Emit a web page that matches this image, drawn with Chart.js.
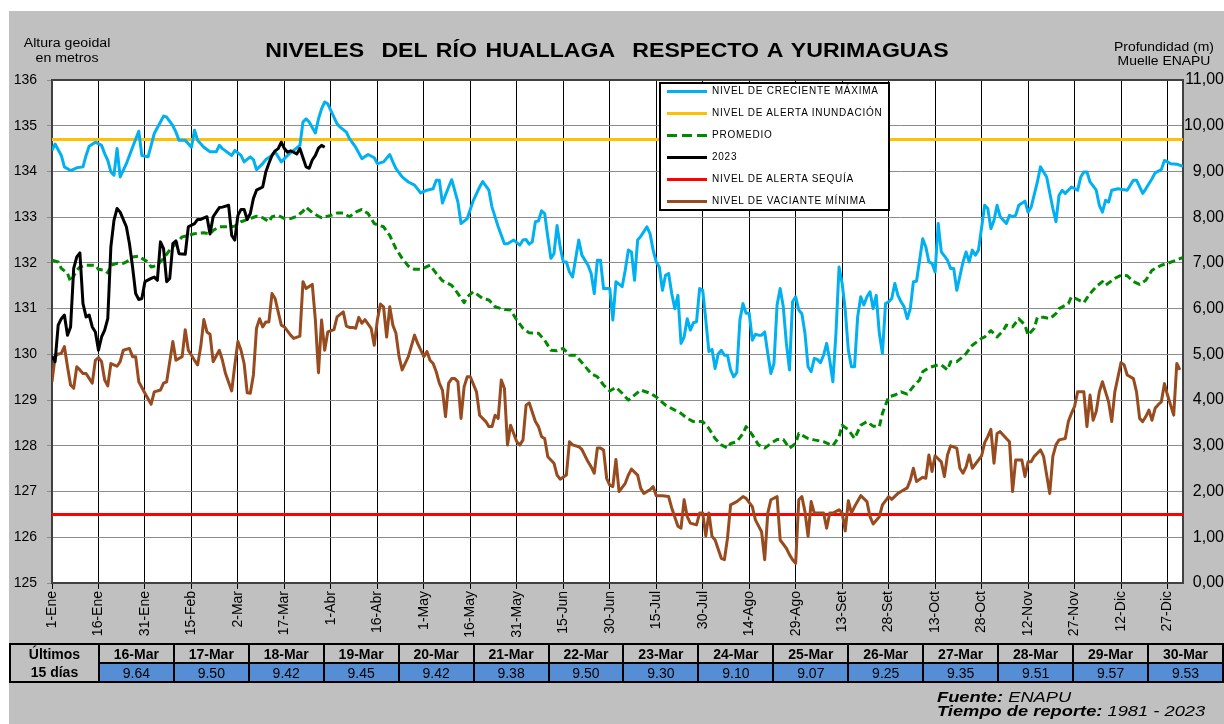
<!DOCTYPE html>
<html>
<head>
<meta charset="utf-8">
<script src="https://cdn.jsdelivr.net/npm/chart.js@4"></script>
<style>
  body { margin: 0; width: 1224px; height: 724px; background: #fff; overflow: hidden;
         font-family: Arial, "Liberation Sans", sans-serif; color: #000; }
  #frame { position: absolute; left: 9px; top: 11px; width: 1215px; height: 713px; background: #c0c0c0; }
  #grafico { position: absolute; left: 0; top: 0; }
  .txt { position: absolute; white-space: nowrap; }
  #titulo { left: 0; width: 1214px; top: 38px; text-align: center; font-weight: bold; font-size: 21px; word-spacing: 2px;
            transform: scaleX(1.1); transform-origin: 607px 0; }
  #ejeIzq { left: 17px; width: 100px; top: 36px; text-align: center; font-size: 12px; line-height: 14.5px;
            transform: scaleX(1.18); transform-origin: 50px 0; }
  #ejeDer { left: 1114px; width: 100px; top: 39.5px; text-align: center; font-size: 12px; line-height: 14px;
            transform: scaleX(1.16); transform-origin: 50px 0; }
  #leyenda { position: absolute; left: 659px; top: 82px; width: 231px; height: 129px; box-sizing: border-box;
             background: #fff; border: 2px solid #000; }
  #leyenda .fila { position: absolute; left: 0; height: 22px; line-height: 22px; font-size: 10px; letter-spacing: 0.75px; white-space: nowrap; }
  #leyenda .sw { position: absolute; left: 6px; top: 10px; width: 40px; height: 3px; }
  #leyenda .lbl { position: absolute; left: 51px; top: 0; }
  #tabla { position: absolute; left: 9px; top: 643px; border-collapse: collapse; table-layout: fixed; }
  #tabla td { border: 2px solid #000; height: 16px; padding: 0; text-align: center; font-size: 14px; line-height: 16px; }
  #tabla td.cab { font-weight: bold; background: #c0c0c0; }
  #tabla td.val { background: #558ed5; }
  #fuente { left: 937px; top: 689.5px; font-size: 15px; line-height: 14px; font-style: italic;
            transform: scaleX(1.22); transform-origin: 0 0; }
</style>
</head>
<body>
<div id="frame"></div>
<canvas id="grafico" width="1224" height="724"></canvas>
<div class="txt" id="titulo">NIVELES&nbsp; DEL RÍO HUALLAGA&nbsp; RESPECTO A YURIMAGUAS</div>
<div class="txt" id="ejeIzq">Altura geoidal<br>en metros</div>
<div class="txt" id="ejeDer">Profundidad (m)<br>Muelle ENAPU</div>
<div id="leyenda"></div>
<table id="tabla"></table>
<div class="txt" id="fuente"><b>Fuente:</b> ENAPU<br><b>Tiempo de reporte:</b> 1981 - 2023</div>
<script>
// ejes
const tickDays = [0, 15, 30, 45, 60, 75, 90, 105, 120, 135, 150, 165, 180, 195, 210, 225, 240, 255, 270, 285, 300, 315, 330, 345, 360];
const tickLabels = ["1-Ene", "16-Ene", "31-Ene", "15-Feb", "2-Mar", "17-Mar", "1-Abr", "16-Abr", "1-May", "16-May",
  "31-May", "15-Jun", "30-Jun", "15-Jul", "30-Jul", "14-Ago", "29-Ago", "13-Set", "28-Set", "13-Oct",
  "28-Oct", "12-Nov", "27-Nov", "12-Dic", "27-Dic"];

// ultimos 15 dias (profundidad en m)
const ultimasFechas = ["16-Mar", "17-Mar", "18-Mar", "19-Mar", "20-Mar", "21-Mar", "22-Mar", "23-Mar", "24-Mar", "25-Mar", "26-Mar", "27-Mar", "28-Mar", "29-Mar", "30-Mar"];
const ultimasProfundidades = ["9.64", "9.50", "9.42", "9.45", "9.42", "9.38", "9.50", "9.30", "9.10", "9.07", "9.25", "9.35", "9.51", "9.57", "9.53"];

const alertaInundacion = 134.7;
const alertaSequia = 126.5;

// [dia del año, nivel m]
const crecienteMaxima = [[0,134.46],[1,134.60],[3,134.35],[4,134.10],[5,134.06],[6,134.02],[8,134.08],[10,134.10],[11,134.35],[12,134.55],[14,134.64],[16,134.57],[17,134.39],[18,134.24],[19,133.99],[20,133.92],[21,134.50],[22,133.88],[24,134.17],[26,134.53],[28,134.88],[29,134.35],[31,134.32],[32,134.57],[33,134.83],[35,135.08],[36,135.21],[37,135.19],[39,135.00],[40,134.86],[41,134.68],[43,134.68],[45,134.53],[46,134.90],[47,134.68],[49,134.53],[51,134.43],[53,134.43],[54,134.57],[55,134.50],[58,134.35],[59,134.46],[61,134.35],[62,134.21],[64,134.32],[65,134.26],[66,134.04],[68,134.17],[69,134.26],[71,134.35],[72,134.43],[74,134.21],[76,134.35],[78,134.46],[80,134.57],[81,135.08],[82,135.15],[83,135.08],[85,134.84],[86,135.15],[87,135.37],[88,135.52],[89,135.48],[90,135.33],[92,135.04],[93,134.97],[95,134.86],[96,134.72],[98,134.53],[100,134.28],[102,134.37],[104,134.30],[105,134.17],[107,134.21],[109,134.37],[110,134.21],[111,134.06],[113,133.88],[115,133.77],[117,133.70],[119,133.53],[121,133.59],[123,133.62],[124,133.81],[125,133.81],[126,133.31],[128,133.66],[129,133.82],[131,133.33],[132,132.86],[134,132.97],[136,133.37],[138,133.66],[139,133.78],[141,133.59],[142,133.22],[144,132.79],[146,132.42],[147,132.42],[149,132.50],[151,132.39],[152,132.50],[153,132.51],[154,132.41],[155,132.46],[156,132.90],[157,132.92],[158,133.14],[159,133.08],[160,132.57],[161,132.10],[162,132.20],[163,132.82],[164,132.35],[165,132.02],[166,132.02],[167,131.80],[168,131.69],[170,132.50],[171,132.17],[173,131.95],[174,131.77],[175,131.33],[176,132.06],[177,132.06],[178,131.44],[180,131.44],[181,130.75],[182,131.59],[184,131.48],[185,131.84],[186,132.28],[187,132.24],[188,131.62],[189,132.50],[190,132.58],[192,132.79],[193,132.64],[194,132.28],[195,132.02],[196,131.91],[197,131.40],[198,131.73],[199,131.77],[200,131.33],[201,131.00],[202,131.29],[203,130.24],[204,130.38],[205,130.78],[206,130.53],[207,130.69],[208,130.71],[209,131.44],[210,131.40],[211,130.75],[212,130.06],[213,130.11],[214,129.69],[215,130.01],[216,130.09],[217,129.98],[218,129.98],[219,129.66],[220,129.51],[221,129.60],[222,130.75],[223,131.11],[224,130.90],[225,130.90],[226,130.31],[227,130.44],[228,130.42],[229,130.42],[230,130.49],[231,130.02],[232,129.58],[233,129.80],[234,131.08],[235,131.44],[236,131.04],[237,130.24],[238,129.66],[239,131.15],[240,131.26],[241,130.97],[242,130.89],[243,130.46],[244,129.73],[245,129.62],[246,129.91],[247,129.89],[248,129.82],[249,129.98],[250,130.24],[251,129.87],[252,129.40],[253,130.46],[254,131.91],[255,131.55],[256,130.97],[257,130.09],[258,129.73],[259,129.73],[260,130.82],[261,131.26],[262,131.08],[263,131.26],[264,131.37],[265,131.00],[266,131.29],[267,130.46],[268,130.02],[269,131.11],[270,131.15],[271,131.22],[272,131.55],[273,131.29],[274,131.15],[275,131.04],[276,130.78],[277,131.00],[278,131.59],[279,131.60],[280,132.06],[281,132.53],[282,132.35],[283,132.02],[284,131.99],[285,131.80],[286,132.86],[287,132.24],[289,132.06],[290,131.88],[291,131.88],[292,131.40],[294,132.02],[295,132.24],[296,132.02],[297,132.28],[298,132.17],[299,132.28],[301,133.26],[302,133.19],[303,132.75],[304,132.93],[305,133.26],[306,133.01],[308,132.86],[309,133.04],[310,133.01],[311,133.04],[312,133.26],[314,133.35],[315,133.11],[316,133.22],[318,133.77],[319,134.10],[321,133.88],[323,133.19],[324,132.90],[325,133.48],[326,133.59],[327,133.52],[329,133.66],[331,133.59],[332,133.88],[333,133.99],[334,133.99],[335,133.77],[337,133.59],[338,133.26],[339,133.11],[340,133.37],[341,133.33],[342,133.59],[344,133.62],[346,133.60],[347,133.59],[349,133.81],[350,133.81],[352,133.52],[353,133.62],[355,133.84],[356,133.97],[358,134.04],[359,134.24],[360,134.21],[361,134.17],[363,134.16],[365,134.11]];

const promedio = [[0,132.06],[2,132.02],[3,131.88],[5,131.77],[6,131.59],[8,131.84],[9,131.91],[11,131.95],[14,131.95],[15,131.86],[17,131.84],[18,131.78],[19,131.95],[21,131.99],[23,131.99],[24,132.02],[26,132.13],[28,132.15],[29,132.10],[31,132.02],[32,131.91],[34,131.95],[36,132.10],[38,132.28],[40,132.42],[42,132.57],[44,132.60],[46,132.64],[49,132.66],[51,132.63],[52,132.71],[54,132.79],[57,132.79],[59,132.80],[61,132.90],[64,132.97],[66,133.02],[68,132.99],[70,132.90],[71,133.01],[73,133.04],[75,132.97],[77,132.97],[79,133.02],[81,133.13],[82,133.22],[84,133.10],[86,133.02],[87,132.99],[90,133.04],[92,133.09],[94,133.09],[96,133.01],[98,133.11],[100,133.17],[102,133.08],[104,132.86],[107,132.79],[109,132.60],[111,132.31],[113,132.10],[115,131.93],[117,131.86],[119,131.86],[122,131.95],[124,131.77],[126,131.61],[129,131.51],[131,131.33],[133,131.13],[134,131.26],[136,131.37],[139,131.22],[141,131.19],[143,131.04],[146,130.98],[148,130.97],[150,130.75],[152,130.57],[154,130.47],[157,130.46],[159,130.31],[161,130.09],[163,130.08],[165,130.13],[167,129.98],[169,129.98],[172,129.74],[174,129.58],[176,129.51],[178,129.33],[180,129.20],[182,129.28],[184,129.15],[186,129.00],[188,129.11],[190,129.22],[193,129.15],[195,129.07],[198,128.89],[201,128.78],[203,128.71],[205,128.60],[207,128.53],[210,128.53],[212,128.38],[214,128.16],[216,128.02],[218,127.95],[219,128.05],[221,128.09],[223,128.27],[224,128.42],[226,128.24],[228,128.02],[230,127.95],[232,128.05],[234,128.14],[236,128.14],[238,127.95],[240,128.05],[241,128.27],[244,128.16],[246,128.13],[249,128.09],[252,128.00],[254,128.20],[255,128.45],[257,128.35],[259,128.16],[261,128.45],[263,128.53],[265,128.43],[267,128.42],[268,128.71],[270,129.07],[272,129.11],[274,129.18],[276,129.13],[278,129.30],[280,129.44],[281,129.62],[283,129.71],[286,129.77],[287,129.77],[289,129.66],[290,129.84],[292,129.84],[294,129.95],[295,130.02],[297,130.20],[300,130.35],[301,130.38],[303,130.52],[305,130.38],[307,130.52],[308,130.64],[310,130.60],[312,130.78],[314,130.64],[315,130.42],[317,130.57],[318,130.81],[320,130.81],[322,130.78],[324,130.89],[325,131.00],[328,131.11],[329,131.26],[331,131.20],[333,131.13],[335,131.33],[337,131.48],[339,131.59],[340,131.51],[343,131.66],[345,131.73],[347,131.72],[349,131.59],[351,131.53],[353,131.62],[355,131.84],[358,131.95],[360,131.99],[362,132.04],[365,132.12]];

const nivel2023 = [[0,129.96],[1,129.84],[2,130.64],[3,130.78],[4,130.86],[5,130.42],[6,130.60],[7,131.88],[8,132.13],[9,132.22],[10,131.11],[11,130.82],[12,130.86],[13,130.60],[14,130.49],[15,130.09],[16,130.38],[17,130.53],[18,130.78],[19,132.35],[20,132.93],[21,133.19],[22,133.11],[24,132.79],[25,132.42],[26,131.91],[27,131.33],[28,131.20],[29,131.22],[30,131.59],[32,131.66],[33,131.69],[34,131.62],[35,132.46],[36,132.31],[37,131.59],[38,131.66],[39,132.42],[40,132.48],[41,132.20],[43,132.19],[44,132.79],[46,132.86],[47,132.95],[48,132.95],[50,133.01],[51,132.63],[52,133.01],[53,133.11],[54,133.21],[55,133.22],[57,133.26],[58,132.60],[59,132.50],[60,133.04],[61,133.17],[62,133.17],[63,132.95],[64,133.08],[65,133.41],[66,133.59],[68,133.66],[69,133.99],[70,134.18],[71,134.35],[72,134.45],[73,134.50],[74,134.64],[75,134.50],[76,134.42],[77,134.45],[78,134.42],[79,134.38],[80,134.50],[81,134.30],[82,134.10],[83,134.07],[84,134.25],[85,134.35],[86,134.51],[87,134.57],[88,134.53]];

const vacianteMinima = [[0,129.40],[1,129.95],[2,130.01],[3,130.02],[4,130.17],[5,129.73],[6,129.33],[7,129.26],[8,129.73],[9,129.66],[10,129.58],[11,129.58],[13,129.37],[14,129.87],[15,129.93],[16,129.84],[17,129.44],[18,129.31],[19,129.80],[21,129.74],[22,129.84],[23,130.09],[25,130.13],[26,129.95],[27,129.95],[28,129.40],[30,129.15],[32,128.91],[33,129.18],[35,129.22],[36,129.37],[37,129.40],[39,130.28],[40,129.87],[42,129.95],[43,130.54],[44,130.09],[46,129.87],[47,129.77],[48,130.17],[49,130.76],[50,130.49],[51,130.44],[52,129.84],[54,130.09],[55,129.87],[56,129.58],[58,129.20],[59,129.77],[60,130.28],[61,130.09],[62,129.80],[63,129.16],[64,129.15],[65,129.55],[66,130.57],[67,130.78],[68,130.60],[69,130.71],[70,130.71],[71,131.33],[72,131.22],[74,130.64],[75,130.60],[77,130.42],[78,130.35],[80,130.40],[81,131.59],[82,131.44],[84,131.53],[85,130.75],[86,129.60],[87,130.75],[88,130.09],[89,130.49],[91,130.54],[92,130.82],[94,130.93],[95,130.62],[96,130.59],[97,130.59],[98,130.57],[99,130.81],[100,130.68],[101,130.76],[103,130.57],[104,130.20],[105,130.75],[106,131.10],[107,131.04],[108,130.38],[109,131.04],[110,130.64],[111,130.46],[112,129.95],[113,129.66],[115,129.95],[117,130.42],[118,130.24],[120,129.95],[121,130.06],[122,129.87],[123,129.80],[124,129.62],[125,129.37],[126,129.22],[127,128.64],[128,129.37],[129,129.47],[130,129.47],[131,129.40],[132,128.60],[133,129.29],[134,129.51],[135,129.51],[137,129.18],[138,128.67],[140,128.53],[141,128.42],[142,128.42],[143,128.67],[144,128.60],[145,129.44],[146,129.26],[147,128.02],[148,128.45],[150,128.09],[151,128.02],[152,128.13],[153,128.89],[154,128.94],[156,128.53],[157,128.42],[158,128.20],[159,128.16],[160,127.76],[162,127.62],[163,127.36],[164,127.27],[166,127.36],[167,128.09],[168,128.02],[170,127.98],[171,127.92],[173,127.65],[174,127.54],[175,127.40],[176,127.95],[177,127.95],[178,127.91],[179,127.29],[180,127.14],[181,127.11],[182,127.70],[183,127.00],[185,127.18],[186,127.36],[187,127.49],[189,127.36],[190,127.07],[191,126.96],[193,127.04],[194,127.11],[195,126.91],[197,126.91],[199,126.89],[200,126.64],[202,126.24],[203,126.20],[204,126.82],[205,126.45],[206,126.31],[208,126.27],[209,126.53],[210,126.53],[211,126.03],[212,126.53],[213,126.02],[214,125.94],[216,125.54],[217,125.51],[218,125.98],[219,126.71],[221,126.78],[223,126.89],[224,126.85],[226,126.67],[227,126.38],[229,126.12],[230,125.51],[231,126.53],[232,126.82],[234,126.89],[235,125.94],[237,125.76],[238,125.62],[239,125.51],[240,125.43],[241,126.82],[242,126.89],[243,126.56],[244,126.02],[245,126.78],[246,126.53],[248,126.53],[249,126.53],[250,126.20],[251,126.53],[252,126.53],[254,126.60],[255,126.53],[256,126.14],[257,126.80],[258,126.53],[259,126.67],[261,126.91],[263,126.78],[264,126.45],[265,126.29],[267,126.45],[268,126.71],[270,126.89],[271,126.83],[273,126.96],[274,127.00],[276,127.08],[277,127.25],[278,127.51],[279,127.22],[281,127.31],[282,127.29],[283,127.80],[284,127.44],[285,127.78],[287,127.65],[288,127.33],[289,127.80],[290,128.00],[292,127.95],[293,127.51],[294,127.40],[295,127.54],[296,127.80],[297,127.51],[299,127.69],[300,127.78],[301,128.07],[302,128.20],[303,128.36],[304,127.62],[305,128.27],[306,128.31],[308,128.16],[309,128.09],[310,127.00],[311,127.69],[313,127.69],[314,127.33],[315,127.65],[316,127.65],[317,127.77],[319,127.91],[320,127.77],[321,127.36],[322,126.96],[323,127.77],[324,128.02],[325,128.13],[327,128.16],[328,128.53],[329,128.71],[330,128.86],[331,129.18],[333,129.18],[334,128.42],[335,129.11],[336,128.56],[337,128.75],[338,129.18],[339,129.40],[341,128.96],[342,128.53],[343,129.18],[345,129.82],[346,129.77],[347,129.55],[349,129.47],[350,129.18],[351,128.60],[352,128.53],[353,128.64],[354,128.78],[355,128.56],[356,128.82],[357,128.90],[358,128.96],[359,129.36],[360,129.11],[361,128.89],[362,128.67],[363,129.80],[364,129.66]];

const series = [
  { label: "NIVEL DE CRECIENTE MÁXIMA", color: "#00b0f0" },
  { label: "NIVEL DE ALERTA INUNDACIÓN", color: "#ffc000" },
  { label: "PROMEDIO", color: "#008a00", dash: true },
  { label: "2023", color: "#000000" },
  { label: "NIVEL DE ALERTA SEQUÍA", color: "#ff0000" },
  { label: "NIVEL DE VACIANTE MÍNIMA", color: "#974b1e" },
];

const toPts = arr => arr.map(p => ({ x: p[0], y: p[1] }));
const lineaFija = v => [{ x: 0, y: v }, { x: 365, y: v }];

// leyenda
const leyenda = document.getElementById("leyenda");
series.forEach((s, i) => {
  const fila = document.createElement("div");
  fila.className = "fila";
  fila.style.top = (i * 22 - 4) + "px";
  const sw = document.createElement("span");
  sw.className = "sw";
  sw.style.background = s.dash
    ? `repeating-linear-gradient(90deg, ${s.color} 0 10px, transparent 10px 15px)`
    : s.color;
  const lbl = document.createElement("span");
  lbl.className = "lbl";
  lbl.textContent = s.label;
  fila.appendChild(sw);
  fila.appendChild(lbl);
  leyenda.appendChild(fila);
});

// tabla
const tabla = document.getElementById("tabla");
let html = '<colgroup><col style="width:89px">' + ultimasFechas.map(() => '<col style="width:75.07px">').join("") + "</colgroup>";
html += '<tr><td class="cab" rowspan="2" style="line-height:18px">Últimos<br>15 días</td>' +
  ultimasFechas.map(f => `<td class="cab">${f}</td>`).join("") + "</tr>";
html += "<tr>" + ultimasProfundidades.map(v => `<td class="val">${v}</td>`).join("") + "</tr>";
tabla.innerHTML = html;

const fondoBlanco = {
  id: "fondoBlanco",
  beforeDraw(chart) {
    const a = chart.chartArea;
    const ctx = chart.ctx;
    ctx.save();
    ctx.fillStyle = "#ffffff";
    ctx.fillRect(a.left, a.top, a.right - a.left, a.bottom - a.top);
    ctx.restore();
  },
  beforeDatasetsDraw(chart) {
    const a = chart.chartArea;
    const ctx = chart.ctx;
    ctx.save();
    ctx.strokeStyle = "#404040";
    ctx.lineWidth = 2;
    ctx.beginPath();
    ctx.moveTo(a.left, a.top);
    ctx.lineTo(a.right, a.top);
    ctx.lineTo(a.right, a.bottom);
    ctx.stroke();
    ctx.restore();
  },
};

Chart.defaults.font.family = 'Arial, "Liberation Sans", sans-serif';
Chart.defaults.color = "#000";

new Chart(document.getElementById("grafico"), {
  type: "line",
  data: {
    datasets: [
      { label: series[0].label, data: toPts(crecienteMaxima), borderColor: series[0].color, borderWidth: 3, order: 1 },
      { label: series[1].label, data: lineaFija(alertaInundacion), borderColor: series[1].color, borderWidth: 3, order: 5 },
      { label: series[2].label, data: toPts(promedio), borderColor: series[2].color, borderWidth: 3, borderDash: [7, 4], order: 2 },
      { label: series[3].label, data: toPts(nivel2023), borderColor: series[3].color, borderWidth: 3, order: 0 },
      { label: series[4].label, data: lineaFija(alertaSequia), borderColor: series[4].color, borderWidth: 3, order: 6 },
      { label: series[5].label, data: toPts(vacianteMinima), borderColor: series[5].color, borderWidth: 3, order: 3 },
    ],
  },
  options: {
    responsive: false,
    animation: false,
    elements: { point: { radius: 0 }, line: { tension: 0, borderJoinStyle: "round" } },
    layout: { padding: { left: 12, right: 0, top: 80, bottom: 81 } },
    plugins: { legend: { display: false }, tooltip: { enabled: false } },
    scales: {
      x: {
        type: "linear",
        min: 0,
        max: 365,
        afterBuildTicks: (s) => { s.ticks = tickDays.map(v => ({ value: v })); },
        afterFit: (s) => { s.height = 60; },
        ticks: {
          autoSkip: false,
          minRotation: 90,
          maxRotation: 90,
          padding: 2,
          font: { size: 14 },
          callback: (v, i) => tickLabels[i],
        },
        grid: { color: "#000", lineWidth: 1, tickLength: 6 },
        border: { color: "#404040", width: 2 },
      },
      y: {
        position: "left",
        min: 125,
        max: 136,
        afterFit: (s) => { s.width = 40; },
        ticks: { stepSize: 1, font: { size: 14 }, padding: 10 },
        grid: { color: "#8c8c8c", lineWidth: 1, tickLength: 5 },
        border: { color: "#404040", width: 2 },
      },
      y2: {
        position: "right",
        min: 0,
        max: 11,
        afterFit: (s) => { s.width = 41; },
        ticks: {
          stepSize: 1,
          font: { size: 16 },
          padding: 1,
          crossAlign: "far",
          callback: (v) => v.toFixed(2).replace(".", ","),
        },
        grid: { drawOnChartArea: false, drawTicks: false },
        border: { display: false },
      },
    },
  },
  plugins: [fondoBlanco],
});
</script>
</body>
</html>
